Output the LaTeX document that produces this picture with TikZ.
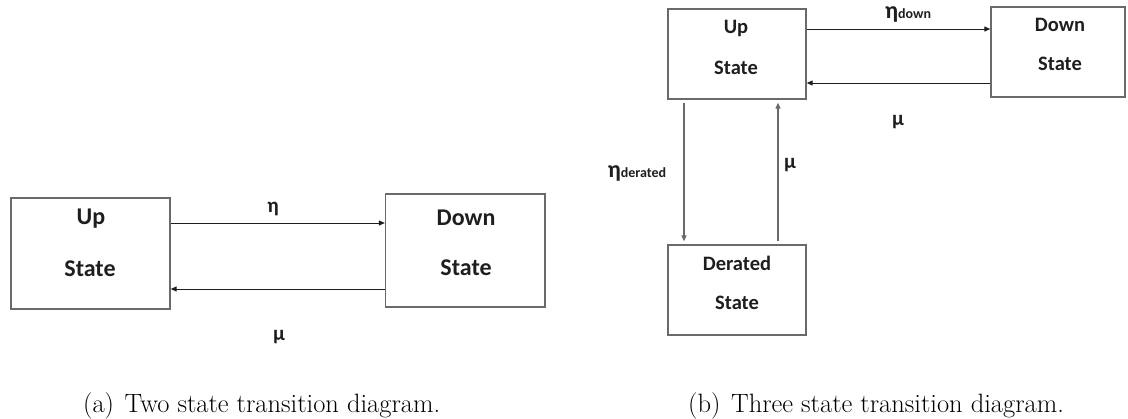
\documentclass[tikz,border=0pt]{standalone}
\usepackage{fontspec}
\newfontfamily\statefont{Carlito}
\usetikzlibrary{arrows.meta}

\definecolor{boxgray}{HTML}{6A6A6A}
\definecolor{inkdark}{HTML}{1E1E1E}

\tikzset{
  statebox/.style={draw=boxgray, line width=1.3pt, inner sep=0pt},
  bigtxt/.style={font=\statefont\bfseries\fontsize{24}{24}\selectfont, text=inkdark, inner sep=0pt},
  smalltxt/.style={font=\statefont\bfseries\fontsize{20.5}{20.5}\selectfont, text=inkdark, inner sep=0pt},
  rate/.style={font=\statefont\bfseries\fontsize{21}{21}\selectfont, text=inkdark, inner sep=0pt},
  trans/.style={draw=inkdark, line width=1pt, -{Triangle[length=6pt,width=5pt]}},
  vtrans/.style={draw=boxgray, line width=1.2pt, -{Triangle[length=6pt,width=5pt]},
                 shorten <=3pt, shorten >=3pt},
  captxt/.style={font=\fontsize{26.5}{30}\selectfont, inner sep=0pt, anchor=base west}
}

\begin{document}
\begin{tikzpicture}[x=1pt, y=-1pt]
\useasboundingbox (0,0) rectangle (1128,418);

% ---- two state model ----
\node[statebox, minimum width=159pt, minimum height=111pt] (upA) at (90.5,253.5) {};
\node[statebox, minimum width=159.5pt, minimum height=113pt] (downA) at (465.25,250.5) {};

\node[bigtxt] (upAt1) at (91,219) {Up};
\node[bigtxt] (upAt2) at (90,269) {State};
\node[bigtxt] (downAt1) at (466,217.5) {Down};
\node[bigtxt] (downAt2) at (466,267.5) {State};

\draw[trans] (upA.east |- 0,223) -- (downA.west |- 0,223);
\draw[trans] (downA.west |- 0,289) -- (upA.east |- 0,289);

\node[rate] (etaA) at (273,209) {η};
\node[rate] (muA) at (279,337) {μ};

\node[captxt] (capA) at (83,412) {(a)\hskip0.4em Two state transition diagram.};

% ---- three state model ----
\node[statebox, minimum width=138pt, minimum height=90pt] (upB) at (737,54) {};
\node[statebox, minimum width=134pt, minimum height=90pt] (downB) at (1058,52) {};
\node[statebox, minimum width=138pt, minimum height=90pt] (derB) at (737,290) {};

\node[smalltxt] (upBt1) at (736,28) {Up};
\node[smalltxt] (upBt2) at (736,68) {State};
\node[smalltxt] (downBt1) at (1060,25) {Down};
\node[smalltxt] (downBt2) at (1060,64) {State};
\node[smalltxt] (derBt1) at (737,263) {Derated};
\node[smalltxt] (derBt2) at (737,303) {State};

\draw[trans] (upB.east |- 0,29) -- (downB.west |- 0,29);
\draw[trans] (downB.west |- 0,83) -- (upB.east |- 0,83);
\draw[vtrans] (upB.south -| 684,0) -- (derB.north -| 684,0);
\draw[vtrans] (derB.north -| 778,0) -- (upB.south -| 778,0);

\node[rate] (etaB) at (908,14) {{\fontsize{24}{24}\selectfont η}{\fontsize{14}{14}\selectfont down}};
\node[rate] (muB) at (898,122) {μ};
\node[rate] (etaC) at (637,173) {{\fontsize{24}{24}\selectfont η}{\fontsize{14}{14}\selectfont derated}};
\node[rate] (muC) at (790,165) {μ};

\node[captxt] (capB) at (688,412) {(b)\hskip0.4em Three state transition diagram.};
\end{tikzpicture}
\end{document}
